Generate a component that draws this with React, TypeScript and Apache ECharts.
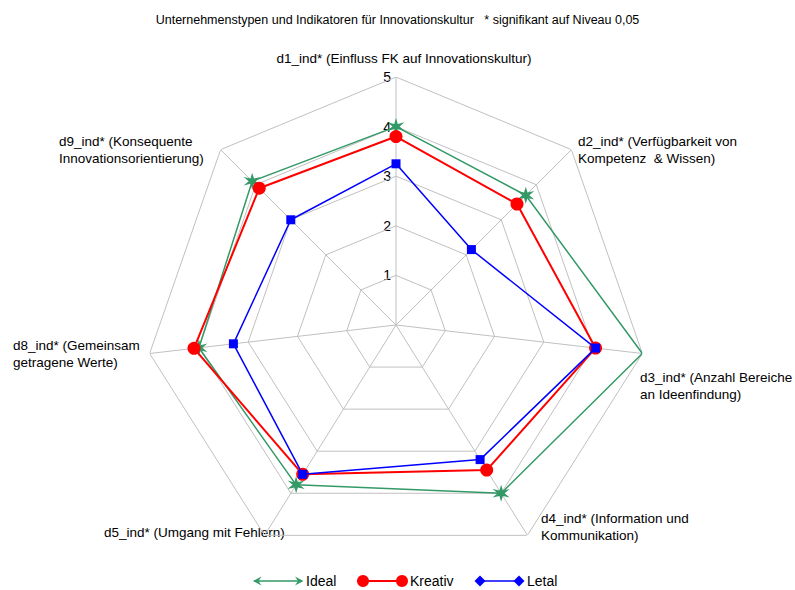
import React, { useEffect, useRef } from "react";
import * as echarts from "echarts";

// Indicator names (clockwise from the top)
const indicatorNames = [
  "d1_ind* (Einfluss FK auf Innovationskultur)",
  "d2_ind* (Verfügbarkeit von\nKompetenz  & Wissen)",
  "d3_ind* (Anzahl Bereiche\nan Ideenfindung)",
  "d4_ind* (Information und\nKommunikation)",
  "d5_ind* (Umgang mit Fehlern)",
  "d8_ind* (Gemeinsam\ngetragene Werte)",
  "d9_ind* (Konsequente\nInnovationsorientierung)",
];

// Direction of each spoke in degrees, clockwise from the top
const axisAngles = [0, 45, 96.6, 148, 212, 263.4, 315];

// Scale rings and tick values
const levels = [1, 2, 3, 4, 5];
const scaleMax = 5;

// Series values per indicator
const seriesNames = ["Ideal", "Kreativ", "Letal"];
const idealValues = [4.0, 3.7, 5.0, 4.0, 3.8, 4.0, 4.1];
const kreativValues = [3.8, 3.45, 4.05, 3.45, 3.55, 4.1, 3.9];
const letalValues = [3.25, 2.15, 4.05, 3.2, 3.55, 3.3, 3.0];

const TITLE =
  "Unternehmenstypen und Indikatoren für Innovationskultur   * signifikant auf Niveau 0,05";

const FONT = "'Liberation Sans', Arial, Helvetica, sans-serif";
const GREEN = "#339966";
const RED = "#ff0000";
const BLUE = "#0000ff";
const GRID = "#c0c0c0";

// six-pointed star marker
function starPath(points: number, outer: number, inner: number): string {
  const parts: string[] = [];
  for (let i = 0; i < points * 2; i++) {
    const r = i % 2 === 0 ? outer : inner;
    const a = (Math.PI * i) / points - Math.PI / 2;
    const x = 10 + r * Math.cos(a);
    const y = 10 + r * Math.sin(a);
    parts.push((i === 0 ? "M" : "L") + x.toFixed(2) + " " + y.toFixed(2));
  }
  return "path://" + parts.join(" ") + " Z";
}
const STAR = starPath(6, 10, 3.6);

function polygonData(values: number[]) {
  const pts: any[] = values.map((v, i) => [v, axisAngles[i]]);
  pts.push({ value: [values[0], axisAngles[0]], symbolSize: 0 });
  return pts;
}

// label placement around the web
const labelLayout = [
  { x: 404, y: 58, align: "center" },
  { x: 578, y: 150, align: "left" },
  { x: 640, y: 386, align: "left" },
  { x: 541, y: 527, align: "left" },
  { x: 104, y: 532, align: "left" },
  { x: 13, y: 354, align: "left" },
  { x: 59, y: 150, align: "left" },
];

export default function App() {
  const ref = useRef<HTMLDivElement>(null);

  useEffect(() => {
    if (!ref.current) return;
    const chart = echarts.init(ref.current, undefined, { renderer: "svg" });

    const ringSeries = levels.map((lvl) => ({
      type: "line",
      coordinateSystem: "polar",
      silent: true,
      symbol: "none",
      z: 1,
      lineStyle: { color: GRID, width: 1 },
      data: [...axisAngles.map((a) => [lvl, a]), [lvl, axisAngles[0]]],
    }));

    const spokeSeries = axisAngles.map((a) => ({
      type: "line",
      coordinateSystem: "polar",
      silent: true,
      symbol: "none",
      z: 1,
      lineStyle: { color: GRID, width: 1 },
      data: [
        [0, a],
        [scaleMax, a],
      ],
    }));

    const dataSeries = [
      {
        name: seriesNames[0],
        type: "line",
        coordinateSystem: "polar",
        z: 3,
        symbol: STAR,
        symbolSize: 17,
        itemStyle: { color: GREEN },
        lineStyle: { color: GREEN, width: 1.5 },
        data: polygonData(idealValues),
      },
      {
        name: seriesNames[1],
        type: "line",
        coordinateSystem: "polar",
        z: 4,
        symbol: "circle",
        symbolSize: 13,
        itemStyle: { color: RED },
        lineStyle: { color: RED, width: 2 },
        data: polygonData(kreativValues),
      },
      {
        name: seriesNames[2],
        type: "line",
        coordinateSystem: "polar",
        z: 5,
        symbol: "rect",
        symbolSize: 9,
        itemStyle: { color: BLUE },
        lineStyle: { color: BLUE, width: 1.5 },
        data: polygonData(letalValues),
      },
    ];

    const labelTexts = indicatorNames.map((name, i) => ({
      type: "text",
      x: labelLayout[i].x,
      y: labelLayout[i].y,
      style: {
        text: name,
        fill: "#000",
        font: `13.5px ${FONT}`,
        textAlign: labelLayout[i].align,
        textVerticalAlign: "middle",
        lineHeight: 16.5,
      },
    }));

    const ly = 581;
    const legendFont = `14px ${FONT}`;
    const legendGraphics: any[] = [
      // Ideal
      {
        type: "line",
        shape: { x1: 254, y1: ly, x2: 302, y2: ly },
        style: { stroke: GREEN, lineWidth: 1.5 },
      },
      {
        type: "polygon",
        shape: { points: [[253, ly], [261.5, ly - 4.5], [258.5, ly], [261.5, ly + 4.5]] },
        style: { fill: GREEN },
      },
      {
        type: "polygon",
        shape: { points: [[303.5, ly], [295, ly - 4.5], [298, ly], [295, ly + 4.5]] },
        style: { fill: GREEN },
      },
      {
        type: "text",
        x: 306,
        y: ly,
        style: { text: seriesNames[0], fill: "#000", font: legendFont, textVerticalAlign: "middle" },
      },
      // Kreativ
      {
        type: "line",
        shape: { x1: 363, y1: ly, x2: 402, y2: ly },
        style: { stroke: RED, lineWidth: 2 },
      },
      { type: "circle", shape: { cx: 363, cy: ly, r: 6 }, style: { fill: RED } },
      { type: "circle", shape: { cx: 402, cy: ly, r: 6 }, style: { fill: RED } },
      {
        type: "text",
        x: 410,
        y: ly,
        style: { text: seriesNames[1], fill: "#000", font: legendFont, textVerticalAlign: "middle" },
      },
      // Letal
      {
        type: "line",
        shape: { x1: 480, y1: ly, x2: 519, y2: ly },
        style: { stroke: BLUE, lineWidth: 1.5 },
      },
      {
        type: "polygon",
        shape: { points: [[480, ly - 5.5], [485.5, ly], [480, ly + 5.5], [474.5, ly]] },
        style: { fill: BLUE },
      },
      {
        type: "polygon",
        shape: { points: [[519, ly - 5.5], [524.5, ly], [519, ly + 5.5], [513.5, ly]] },
        style: { fill: BLUE },
      },
      {
        type: "text",
        x: 527,
        y: ly,
        style: { text: seriesNames[2], fill: "#000", font: legendFont, textVerticalAlign: "middle" },
      },
    ];

    chart.setOption({
      animation: false,
      backgroundColor: "#ffffff",
      textStyle: { fontFamily: FONT },
      title: {
        text: TITLE,
        left: "center",
        top: 8,
        textStyle: { fontSize: 12.5, fontWeight: "normal", color: "#000", fontFamily: FONT },
      },
      polar: { center: [396, 325], radius: 248 },
      angleAxis: {
        type: "value",
        min: 0,
        max: 360,
        startAngle: 90,
        clockwise: true,
        show: false,
      },
      radiusAxis: {
        type: "value",
        min: 0,
        max: scaleMax,
        interval: 1,
        axisLine: { show: false },
        axisTick: { show: false },
        splitLine: { show: false },
        axisLabel: {
          show: true,
          fontSize: 14,
          color: "#000",
          fontFamily: FONT,
          margin: 5,
          formatter: (v: number) => (v === 0 ? "" : String(v)),
        },
      },
      series: [...ringSeries, ...spokeSeries, ...dataSeries],
      graphic: [...labelTexts, ...legendGraphics],
    });

    return () => chart.dispose();
  }, []);

  return (
    <div
      ref={ref}
      style={{ position: "fixed", left: 0, top: 0, width: 795, height: 590, background: "#fff" }}
    />
  );
}
